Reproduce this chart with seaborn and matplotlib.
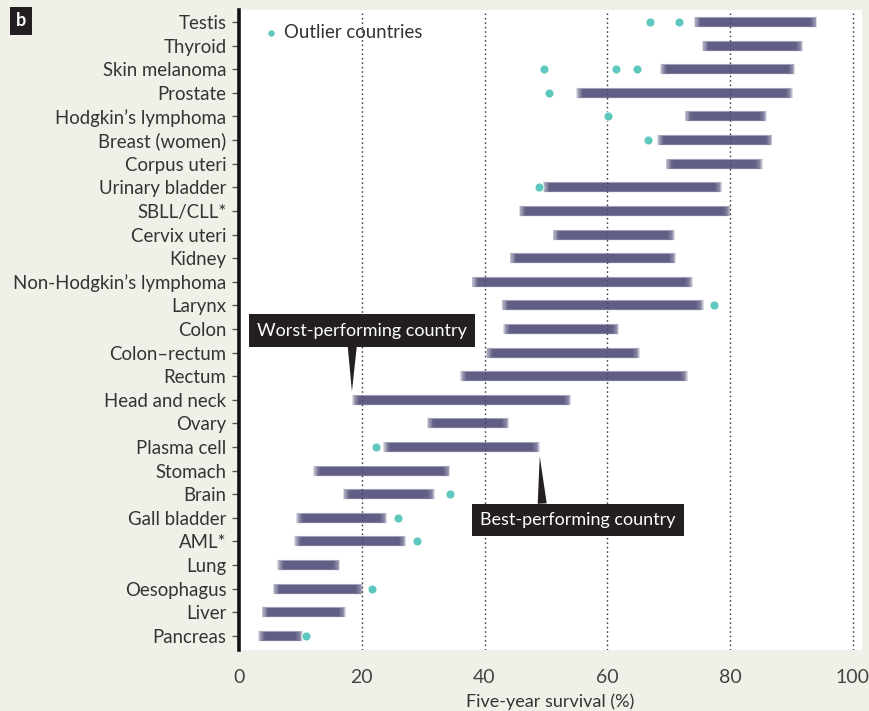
import matplotlib
matplotlib.use('Agg')
import matplotlib.pyplot as plt
import seaborn as sns
import pandas as pd

# Five-year survival (%), worst and best performing country per cancer
cancers = ['Testis', 'Thyroid', 'Skin melanoma', 'Prostate', 'Hodgkin\u2019s lymphoma',
           'Breast (women)', 'Corpus uteri', 'Urinary bladder', 'SBLL/CLL*',
           'Cervix uteri', 'Kidney', 'Non-Hodgkin\u2019s lymphoma', 'Larynx', 'Colon',
           'Colon\u2013rectum', 'Rectum', 'Head and neck', 'Ovary', 'Plasma cell',
           'Stomach', 'Brain', 'Gall bladder', 'AML*', 'Lung', 'Oesophagus',
           'Liver', 'Pancreas']
worst = [74.1, 75.4, 68.6, 54.9, 72.6, 68.1, 69.5, 49.5, 45.6, 51.1, 44.1, 37.9,
         42.8, 43.0, 40.2, 36.0, 18.4, 30.6, 23.5, 12.1, 16.9, 9.3, 9.0, 6.2,
         5.5, 3.7, 3.1]
best = [94.2, 91.9, 90.6, 90.2, 86.0, 86.9, 85.3, 78.7, 80.1, 71.0, 71.2, 73.9,
        75.7, 61.9, 65.3, 73.1, 54.1, 44.0, 49.0, 34.4, 31.9, 24.1, 27.2, 16.5,
        20.2, 17.4, 10.4]

outlier_cancer = ['Testis', 'Testis', 'Skin melanoma', 'Skin melanoma', 'Skin melanoma',
                  'Prostate', 'Hodgkin\u2019s lymphoma', 'Breast (women)',
                  'Urinary bladder', 'Larynx', 'Plasma cell', 'Brain',
                  'Gall bladder', 'AML*', 'Oesophagus', 'Pancreas']
outlier_value = [66.9, 71.7, 49.7, 61.5, 64.8, 50.5, 60.1, 66.6, 48.9, 77.4,
                 22.3, 34.4, 25.9, 29.0, 21.7, 10.9]

x_ticks = [0, 20, 40, 60, 80, 100]

BAR = '#4f4d78'
DOT = '#5ec8bf'
BG = '#f1f0e8'

sns.set_theme(style='white')
plt.rcParams['font.family'] = ['Lato', 'DejaVu Sans']

fig = plt.figure(figsize=(8.7, 7.11), dpi=100, facecolor=BG)
ax = fig.add_axes([0.2747, 0.0858, 0.9908 - 0.2747, 0.9859 - 0.0858])
ax.set_facecolor('white')

ypos = list(range(len(cancers)))

# Soft-edged bars: stack several translucent layers, each a bit shorter
n_layers = 10
for k in range(n_layers):
    sh = k * 0.13
    ax.hlines(ypos, [w + sh for w in worst], [b - sh for b in best],
              color=BAR, linewidth=7.4 - k * 0.22, alpha=0.2, zorder=2)

df_out = pd.DataFrame({'y': [cancers.index(c) for c in outlier_cancer],
                       'x': outlier_value})
sns.scatterplot(data=df_out, x='x', y='y', color=DOT, s=42, edgecolor='white',
                linewidth=0.6, ax=ax, zorder=4, label='Outlier countries')

# dotted grid
for t in x_ticks[1:]:
    ax.axvline(t, color='#222222', linestyle=(0, (1, 2.2)), linewidth=1.0, zorder=1)

ax.set_xlim(0, 101.5)
ax.set_ylim(26.6, -0.51)
ax.set_yticks(ypos)
ax.set_yticklabels(cancers, fontsize=13.4, color='#333333')
ax.set_xticks(x_ticks)
ax.set_xticklabels([str(t) for t in x_ticks], fontsize=14, color='#444444')
ax.tick_params(axis='y', which='major', length=5, width=1, color='#555555',
               direction='out', pad=4, left=True)
ax.tick_params(axis='x', length=0, pad=14)
ax.set_xlabel('Five-year survival (%)', fontsize=13, color='#333333', labelpad=5)
ax.set_ylabel('')

for side in ['top', 'right', 'bottom']:
    ax.spines[side].set_visible(False)
ax.spines['left'].set_color('#111111')
ax.spines['left'].set_linewidth(2.6)

leg = ax.legend(loc='upper left', bbox_to_anchor=(0.0, 0.998), frameon=False,
                fontsize=13.4, handletextpad=-0.3, borderaxespad=0.3,
                markerscale=0.8)
for txt in leg.get_texts():
    txt.set_color('#333333')

# Call-outs
i_head = cancers.index('Head and neck')
i_plasma = cancers.index('Plasma cell')
ax.annotate('Worst-performing country', xy=(worst[i_head], i_head - 0.35),
            xytext=(20.0, 13.07), ha='center', va='center', fontsize=13,
            color='white',
            bbox=dict(boxstyle='square,pad=0.45', fc='#231f20', ec='none'),
            arrowprops=dict(arrowstyle='wedge,tail_width=0.5', fc='#231f20',
                            ec='none', relpos=(0.455, 0.0), shrinkA=0, shrinkB=0),
            zorder=6)
ax.annotate('Best-performing country', xy=(best[i_plasma], i_plasma + 0.4),
            xytext=(55.2, 21.08), ha='center', va='center', fontsize=13,
            color='white',
            bbox=dict(boxstyle='square,pad=0.45', fc='#231f20', ec='none'),
            arrowprops=dict(arrowstyle='wedge,tail_width=0.5', fc='#231f20',
                            ec='none', relpos=(0.32, 1.0), shrinkA=0, shrinkB=0),
            zorder=6)

fig.text(0.0241, 0.9705, 'b', ha='center', va='center', fontsize=13,
         fontweight='bold', color='white',
         bbox=dict(boxstyle='square,pad=0.3', fc='#231f20', ec='none'))

fig.savefig('out.png', dpi=100, facecolor=BG)
